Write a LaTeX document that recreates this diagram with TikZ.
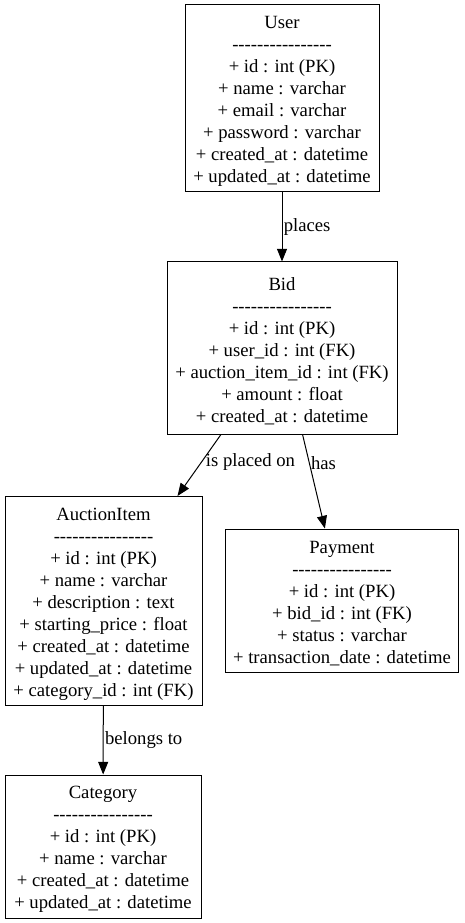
\documentclass[tikz,border=0pt]{standalone}
\usepackage{fontspec}
\setmainfont{Liberation Serif}
\usetikzlibrary{arrows.meta}
\newcommand{\dashrow}{-{}-{}-{}-{}-{}-{}-{}-{}-{}-{}-{}-{}-{}-{}-{}-{}}
\newcommand{\toppad}{\rule{0pt}{14pt}}
\tikzset{
  entity/.style={draw=black, line width=0.75pt, inner sep=0pt, align=center,
    font=\fontsize{14pt}{16.5pt}\selectfont},
  rel/.style={draw=black, line width=0.75pt, -{Triangle[length=9.5pt,width=7.5pt]}},
  lbl/.style={anchor=west, inner sep=1pt, font=\fontsize{14pt}{16.5pt}\selectfont}
}
\begin{document}
\begin{tikzpicture}[x=0.75pt,y=-0.75pt]
\useasboundingbox[fill=white] (0,0) rectangle (464,923);
\node[entity, minimum width=194*0.75pt, minimum height=187*0.75pt] (user) at (282,98.5)
  {\toppad User\\\dashrow\\+ id : int (PK)\\+ name : varchar\\+ email : varchar\\+ password : varchar\\+ created\_at : datetime\\+ updated\_at : datetime};
\node[entity, minimum width=230*0.75pt, minimum height=172*0.75pt] (bid) at (282,348)
  {\toppad Bid\\\dashrow\\+ id : int (PK)\\+ user\_id : int (FK)\\+ auction\_item\_id : int (FK)\\+ amount : float\\+ created\_at : datetime};
\node[entity, minimum width=197*0.75pt, minimum height=209*0.75pt] (item) at (103.5,601)
  {\toppad AuctionItem\\\dashrow\\+ id : int (PK)\\+ name : varchar\\+ description : text\\+ starting\_price : float\\+ created\_at : datetime\\+ updated\_at : datetime\\+ category\_id : int (FK)};
\node[entity, minimum width=233*0.75pt, minimum height=143*0.75pt] (pay) at (342,600.5)
  {\toppad Payment\\\dashrow\\+ id : int (PK)\\+ bid\_id : int (FK)\\+ status : varchar\\+ transaction\_date : datetime};
\node[entity, minimum width=196*0.75pt, minimum height=143*0.75pt] (cat) at (103,846.5)
  {\toppad Category\\\dashrow\\+ id : int (PK)\\+ name : varchar\\+ created\_at : datetime\\+ updated\_at : datetime};
\draw[rel] (user) -- node[lbl, pos=0.5] (l1) {places} (bid);
\draw[rel] (bid) -- node[lbl, pos=0.45, xshift=2pt] (l2) {is placed on} (item);
\draw[rel] (bid) -- node[lbl, pos=0.3] (l3) {has} (pay);
\draw[rel] (item) -- node[lbl, pos=0.5] (l4) {belongs to} (cat);
\end{tikzpicture}
\end{document}
